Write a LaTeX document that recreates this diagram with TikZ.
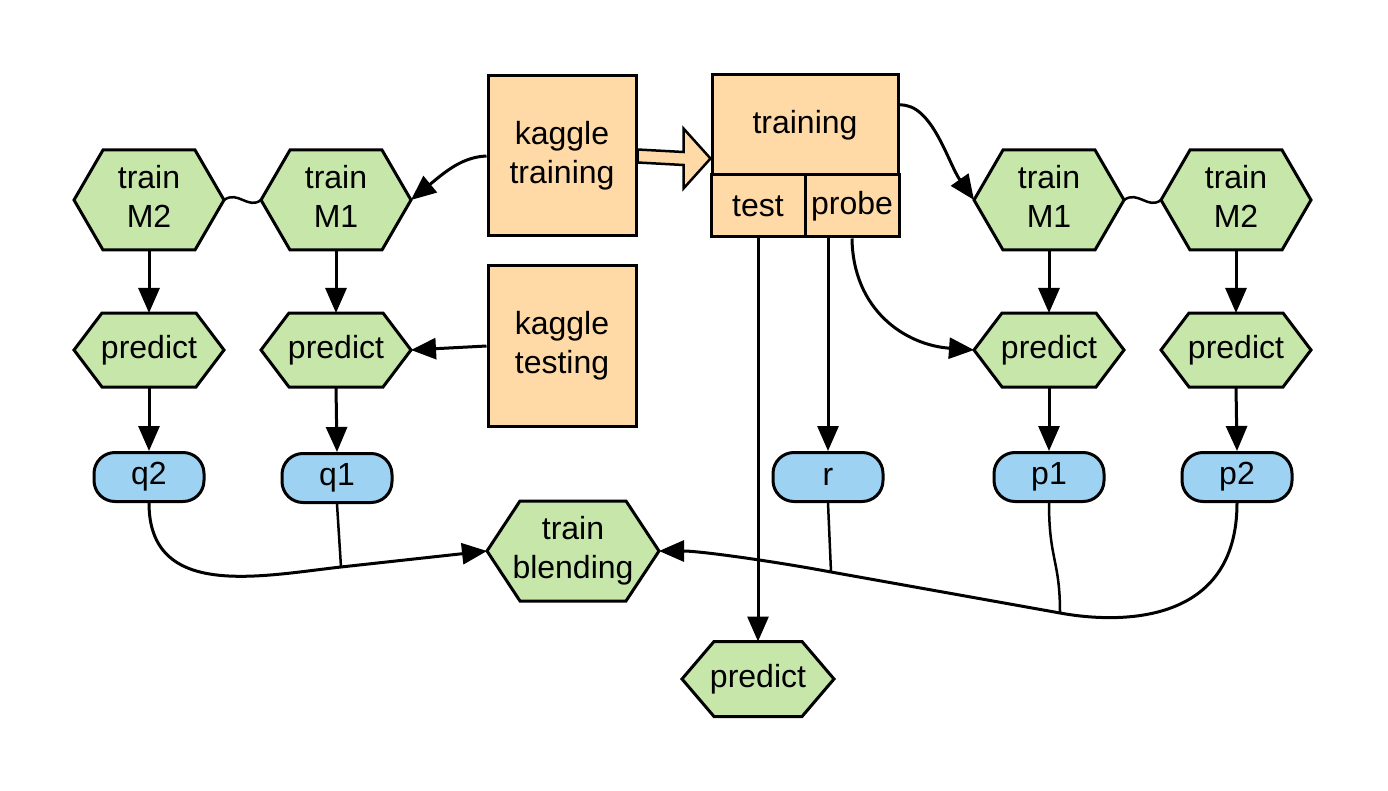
\documentclass[tikz,border=0pt]{standalone}
\usepackage{fontspec}
\setmainfont{Liberation Sans}
\usetikzlibrary{arrows.meta}
\definecolor{orfill}{HTML}{FFD9A6}
\definecolor{grfill}{HTML}{C6E6AA}
\definecolor{blfill}{HTML}{9DD2F3}
\newcommand\hexat[8]{%
 \draw[hexline] (#2,#3) ++(-#4/2,0) -- ++(#6,-#5/2) -- ++(#4-2*#6,0) -- ++(#6,#5/2) -- ++(-#6,#5/2) -- ++(-#4+2*#6,0) -- cycle;
 \node[hexbox, minimum width=#4pt, minimum height=#5pt] (#1) at (#2,#3) {};
 \node[txt, inner sep=0pt] (#1-text) at ([yshift=#8pt]#1.center) {#7};
}
\begin{document}
\begin{tikzpicture}[x=1pt,y=-1pt,
  txt/.style={font=\fontsize{32}{39}\selectfont, align=center},
  hexline/.style={draw, line width=3pt, fill=grfill, line join=miter},
  hexbox/.style={draw=none, inner sep=0pt, outer sep=0pt},
  pill/.style={txt, draw, line width=3pt, fill=blfill, rounded corners=21pt, minimum width=110pt, minimum height=49pt, inner sep=0pt},
  obox/.style={txt, draw, line width=3pt, fill=orfill, inner sep=0pt},
  arr/.style={line width=3pt, -{Triangle[length=25pt,width=21pt]}},
  link/.style={line width=2.5pt},
  hollow/.style={line width=2.5pt, fill=orfill, line join=miter}
]
\useasboundingbox (0,0) rectangle (1388,791);
\fill[white] (0,0) rectangle (1388,791);

% boxes
\node[obox, minimum width=148pt, minimum height=160pt] (kt) at (562,156) {kaggle\\training};
\node[obox, minimum width=148pt, minimum height=160pt] (ktest) at (562,346) {kaggle\\testing};
\node[obox, minimum width=186pt, minimum height=100pt] (trtop) at (805,125) {training};
\node[obox, minimum width=94pt, minimum height=62pt] (test) at (758,206) {test};
\node[obox, minimum width=94pt, minimum height=62pt] (probe) at (852,206) {probe};

% hexagons
\hexat{m2l}{149}{200}{150}{100}{29}{train\\M2}{4}
\hexat{m1l}{336}{200}{150}{100}{29}{train\\M1}{4}
\hexat{pl2}{149}{350}{150}{74}{28}{predict}{0}
\hexat{pl1}{336}{350}{150}{74}{28}{predict}{0}
\hexat{m1r}{1049}{200}{150}{100}{29}{train\\M1}{4}
\hexat{m2r}{1236}{200}{150}{100}{29}{train\\M2}{4}
\hexat{pr1}{1049}{350}{150}{74}{28}{predict}{0}
\hexat{pr2}{1236}{350}{150}{74}{28}{predict}{0}
\hexat{tb}{573}{551}{172}{100}{33}{train\\blending}{0}
\hexat{bp}{758}{679}{152}{75}{32}{predict}{0}

% pills
\node[pill] (q2) at (149,477) {q2};
\node[pill] (q1) at (337,478) {q1};
\node[pill] (r) at (828,477) {r};
\node[pill] (p1) at (1049,477) {p1};
\node[pill] (p2) at (1237,477) {p2};

\coordinate (j1) at (341,567);
\coordinate (jr) at (831,572);
\coordinate (jp1) at (1060,613);

% hollow arrow
\draw[hollow] ([yshift=6.5pt]kt.east) -- ([xshift=-27pt,yshift=24.5pt]trtop.south west)
  -- ([xshift=-27pt,yshift=48pt]trtop.south west) -- ([yshift=18pt]trtop.south west)
  -- ([xshift=-27pt,yshift=-12pt]trtop.south west) -- ([xshift=-27pt,yshift=11.5pt]trtop.south west)
  -- ([yshift=-6.5pt]kt.east) -- cycle;

% connectors
\draw[arr] (kt.west) .. controls (462,157) and (445,172) .. (m1l.east);
\draw[link] (m2l.east) .. controls (238,190) and (248,210) .. (m1l.west);
\draw[link] (m1r.east) .. controls (1138,190) and (1148,210) .. (m2r.west);
\draw[arr] ([yshift=20pt]trtop.east) .. controls (932,103) and (948,163) .. (m1r.west);

\draw[arr] (m2l.south) -- (pl2.north);
\draw[arr] (m1l.south) -- (pl1.north);
\draw[arr] (pl2.south) -- (q2.north);
\draw[arr] (pl1.south) -- (q1.north);
\draw[arr] (m1r.south) -- (pr1.north);
\draw[arr] (m2r.south) -- (pr2.north);
\draw[arr] (pr1.south) -- (p1.north);
\draw[arr] (pr2.south) -- (p2.north);
\draw[arr] (ktest.west) -- (pl1.east);

\draw[arr] (test.south) -- (bp.north);
\draw[arr] ([xshift=-24pt]probe.south) -- (r.north);
\draw[arr] (probe.south) .. controls (853,310) and (905,345) .. (pr1.west);

\draw[arr] (q2.south) .. controls (149,600) and (260,576) .. (j1) -- (tb.west);
\draw[link] (q1.south) -- (j1);
\draw[arr] (p2.south) .. controls (1237,625) and (1120,624) .. (jp1) -- (jr) .. controls (772,561) and (700,551) .. (tb.east);
\draw[link] (p1.south) .. controls (1049,560) and (1060,560) .. (jp1);
\draw[link] (r.south) -- (jr);
\end{tikzpicture}
\end{document}
